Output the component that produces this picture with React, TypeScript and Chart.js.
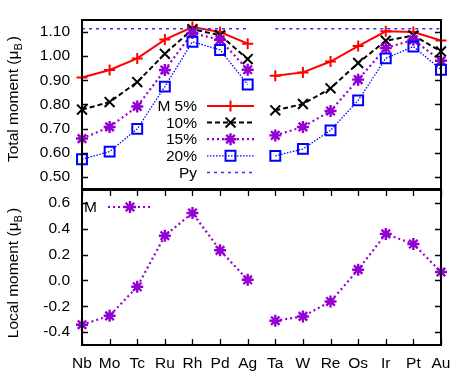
import React, { useEffect, useRef } from 'react';
import { Chart, registerables } from 'chart.js';

Chart.register(...registerables);

// ---------- data ----------
const elements = ['Nb', 'Mo', 'Tc', 'Ru', 'Rh', 'Pd', 'Ag', 'Ta', 'W', 'Re', 'Os', 'Ir', 'Pt', 'Au'];
const total5 = [0.912, 0.943, 0.991, 1.069, 1.121, 1.100, 1.052, 0.919, 0.933, 0.978, 1.042, 1.103, 1.100, 1.065];
const total10 = [0.779, 0.810, 0.893, 1.010, 1.112, 1.087, 0.988, 0.776, 0.802, 0.867, 0.972, 1.064, 1.086, 1.020];
const total15 = [0.659, 0.707, 0.792, 0.943, 1.096, 1.068, 0.944, 0.672, 0.707, 0.773, 0.903, 1.034, 1.068, 0.981];
const total20 = [0.573, 0.605, 0.699, 0.874, 1.060, 1.026, 0.883, 0.587, 0.616, 0.693, 0.817, 0.991, 1.040, 0.944];
const pyMoment = [1.114, 1.114, 1.114, 1.114, 1.114, 1.114, 1.114, 1.114, 1.114, 1.114, 1.114, 1.114, 1.114, 1.114];
const localMoment = [-0.343, -0.274, -0.049, 0.346, 0.522, 0.233, 0.005, -0.312, -0.279, -0.163, 0.083, 0.360, 0.282, 0.065];
const totalTicks = [0.5, 0.6, 0.7, 0.8, 0.9, 1.0, 1.1];
const localTicks = [-0.4, -0.2, 0.0, 0.2, 0.4, 0.6];
const totalLabels = ['M 5%', '10%', '15%', '20%', 'Py'];
const localLabels = ['M'];
const totalTitle = 'Total moment';
const localTitle = 'Local moment';

// ---------- style ----------
const FONT = '"Liberation Sans", Arial, Helvetica, sans-serif';
const FS = 15.5;
const GAP_INDEX = 6; // no line between Ag and Ta
const RED = '#ff0000';
const BLACK = '#000000';
const PURPLE = '#9400d3';
const BLUE = '#0000ff';
const PYBLUE = '#2f2fff';

type Sty = { color: string; dash: number[]; width: number; marker: string; r: number; mw: number };
const styles: Sty[] = [
  { color: RED, dash: [], width: 2, marker: 'cross', r: 5.5, mw: 2 },
  { color: BLACK, dash: [5, 3], width: 2, marker: 'crossRot', r: 7, mw: 2 },
  { color: PURPLE, dash: [2, 3], width: 2.2, marker: 'star', r: 6, mw: 2.4 },
  { color: BLUE, dash: [1.5, 1.5], width: 1.3, marker: 'rect', r: 7, mw: 2 },
  { color: PYBLUE, dash: [3, 4], width: 1.5, marker: 'none', r: 0, mw: 0 },
];

function drawMarker(ctx: CanvasRenderingContext2D, s: Sty, x: number, y: number) {
  if (s.marker === 'none') return;
  ctx.save();
  ctx.setLineDash([]);
  ctx.strokeStyle = s.color;
  ctx.lineWidth = s.mw;
  ctx.beginPath();
  const r = s.r;
  const d = r * Math.SQRT1_2;
  if (s.marker === 'cross' || s.marker === 'star') {
    ctx.moveTo(x - r, y); ctx.lineTo(x + r, y);
    ctx.moveTo(x, y - r); ctx.lineTo(x, y + r);
  }
  if (s.marker === 'crossRot' || s.marker === 'star') {
    ctx.moveTo(x - d, y - d); ctx.lineTo(x + d, y + d);
    ctx.moveTo(x - d, y + d); ctx.lineTo(x + d, y - d);
  }
  if (s.marker === 'rect') {
    ctx.rect(x - d, y - d, 2 * d, 2 * d);
  }
  ctx.stroke();
  ctx.restore();
}

function makeDataset(label: string, data: number[], s: Sty, order: number) {
  return {
    label,
    data,
    order,
    clip: false as any,
    borderColor: s.color,
    borderWidth: s.width,
    borderDash: s.dash,
    backgroundColor: 'rgba(0,0,0,0)',
    pointStyle: s.marker === 'none' ? false : s.marker,
    pointRadius: s.marker === 'none' ? 0 : s.r,
    pointBorderWidth: s.mw,
    pointBorderColor: s.color,
    pointBackgroundColor: 'rgba(0,0,0,0)',
    tension: 0,
    segment: {
      borderColor: (c: any) => (c.p0DataIndex === GAP_INDEX ? 'rgba(0,0,0,0)' : undefined),
    },
  };
}

function drawYTitle(ctx: CanvasRenderingContext2D, main: string, x: number, cy: number) {
  ctx.save();
  const f = `${FS}px ${FONT}`;
  const sf = `${FS * 0.72}px ${FONT}`;
  const parts: [string, string, number, number][] = [
    [main + ' (\u03bc', f, 0, 0],
    ['B', sf, 4, 2],
    [')', f, 0, 0],
  ];
  let total = 0;
  for (const p of parts) {
    ctx.font = p[1];
    total += ctx.measureText(p[0]).width + p[3];
  }
  ctx.translate(x, cy);
  ctx.rotate(-Math.PI / 2);
  ctx.fillStyle = '#000';
  ctx.textBaseline = 'alphabetic';
  ctx.textAlign = 'left';
  let u = -total / 2;
  for (const p of parts) {
    ctx.font = p[1];
    ctx.fillText(p[0], u, p[2]);
    u += ctx.measureText(p[0]).width + p[3];
  }
  ctx.restore();
}

function framePlugin(xTicks: boolean, title: string, titleY: number, legend: (ctx: CanvasRenderingContext2D) => void) {
  return {
    id: 'frame',
    afterDatasetsDraw(chart: any) {
      const { ctx, chartArea: a, scales } = chart;
      ctx.save();
      ctx.strokeStyle = '#000';
      ctx.lineWidth = 1.3;
      ctx.setLineDash([]);
      const tl = 6;
      const ys = scales.y;
      ctx.beginPath();
      ys.ticks.forEach((t: any) => {
        const py = Math.round(ys.getPixelForValue(t.value)) + 0.5;
        ctx.moveTo(a.left, py); ctx.lineTo(a.left + tl, py);
        ctx.moveTo(a.right, py); ctx.lineTo(a.right - tl, py);
      });
      if (xTicks) {
        const xs = scales.x;
        elements.forEach((_, i) => {
          const px = Math.round(xs.getPixelForValue(i)) + 0.5;
          ctx.moveTo(px, a.bottom); ctx.lineTo(px, a.bottom - tl);
          ctx.moveTo(px, a.top); ctx.lineTo(px, a.top + tl);
        });
      }
      ctx.stroke();
      ctx.lineWidth = 2;
      ctx.strokeRect(a.left, a.top, a.right - a.left, a.bottom - a.top);
      ctx.restore();
      drawYTitle(ctx, title, 18, titleY);
      legend(ctx);
    },
  };
}

function baseOptions(yMin: number, yMax: number, ticks: number[], decimals: number, showX: boolean, padTop: number, padBottom: number) {
  return {
    responsive: false,
    animation: false as const,
    events: [] as any[],
    layout: { autoPadding: false, padding: { left: 0, right: 30, top: padTop, bottom: padBottom } },
    plugins: { legend: { display: false }, tooltip: { enabled: false } },
    scales: {
      x: {
        type: 'category' as const,
        offset: false,
        display: showX,
        grid: { display: false, drawTicks: false },
        border: { display: false },
        ticks: { color: '#000', font: { family: FONT, size: FS }, padding: 9, maxRotation: 0, autoSkip: false },
        afterFit: (s: any) => {
          s.height = showX ? 34 : 0;
          s.paddingLeft = 0;
          s.paddingRight = 0;
        },
      },
      y: {
        min: yMin,
        max: yMax,
        grid: { display: false, drawTicks: false },
        border: { display: false },
        afterBuildTicks: (s: any) => { s.ticks = ticks.map((v) => ({ value: v })); },
        afterFit: (s: any) => {
          s.width = 82;
          s.paddingTop = 0;
          s.paddingBottom = 0;
        },
        ticks: {
          color: '#000',
          padding: 12,
          font: { family: FONT, size: FS },
          callback: (v: any) => Number(v).toFixed(decimals),
        },
      },
    },
  };
}

function legendLine(ctx: CanvasRenderingContext2D, s: Sty, x0: number, x1: number, y: number) {
  ctx.save();
  ctx.strokeStyle = s.color;
  ctx.lineWidth = s.width;
  ctx.setLineDash(s.dash);
  ctx.beginPath();
  ctx.moveTo(x0, y); ctx.lineTo(x1, y);
  ctx.stroke();
  ctx.restore();
  drawMarker(ctx, s, (x0 + x1) / 2, y);
}

export default function App() {
  const topRef = useRef<HTMLCanvasElement | null>(null);
  const botRef = useRef<HTMLCanvasElement | null>(null);

  useEffect(() => {
    const topSeries = [total5, total10, total15, total20, pyMoment];
    const topLegend = (ctx: CanvasRenderingContext2D) => {
      totalLabels.forEach((lab, i) => {
        const y = 106 + i * 16.6;
        ctx.save();
        ctx.fillStyle = '#000';
        ctx.font = `${FS}px ${FONT}`;
        ctx.textAlign = 'right';
        ctx.textBaseline = 'middle';
        ctx.fillText(lab, 197, y + 1);
        ctx.restore();
        legendLine(ctx, styles[i], 207, 254, y);
      });
    };
    const top = new Chart(topRef.current as HTMLCanvasElement, {
      type: 'line',
      data: {
        labels: elements,
        datasets: topSeries.map((d, i) => makeDataset(totalLabels[i], d, styles[i], 4 - i)) as any,
      },
      options: baseOptions(0.45, 1.15, totalTicks, 2, false, 20, 1) as any,
      plugins: [framePlugin(false, totalTitle, 99, topLegend)],
    });

    const localStyle = styles[2];
    const botLegend = (ctx: CanvasRenderingContext2D) => {
      ctx.save();
      ctx.fillStyle = '#000';
      ctx.font = `${FS}px ${FONT}`;
      ctx.textAlign = 'left';
      ctx.textBaseline = 'middle';
      ctx.fillText(localLabels[0], 84, 19);
      ctx.restore();
      legendLine(ctx, localStyle, 108, 152, 18);
    };
    const bot = new Chart(botRef.current as HTMLCanvasElement, {
      type: 'line',
      data: {
        labels: elements,
        datasets: [makeDataset(localLabels[0], localMoment, localStyle, 0)] as any,
      },
      options: baseOptions(-0.5, 0.7, localTicks, 1, true, 1, 0) as any,
      plugins: [framePlugin(true, localTitle, 84, botLegend)],
    });

    return () => {
      top.destroy();
      bot.destroy();
    };
  }, []);

  return (
    <div style={{ position: 'absolute', left: 0, top: 0, width: 471, height: 379, background: '#fff' }}>
      <canvas ref={topRef} width={471} height={190} style={{ position: 'absolute', left: 0, top: 0, width: 471, height: 190 }} />
      <canvas ref={botRef} width={471} height={190} style={{ position: 'absolute', left: 0, top: 189, width: 471, height: 190 }} />
    </div>
  );
}
